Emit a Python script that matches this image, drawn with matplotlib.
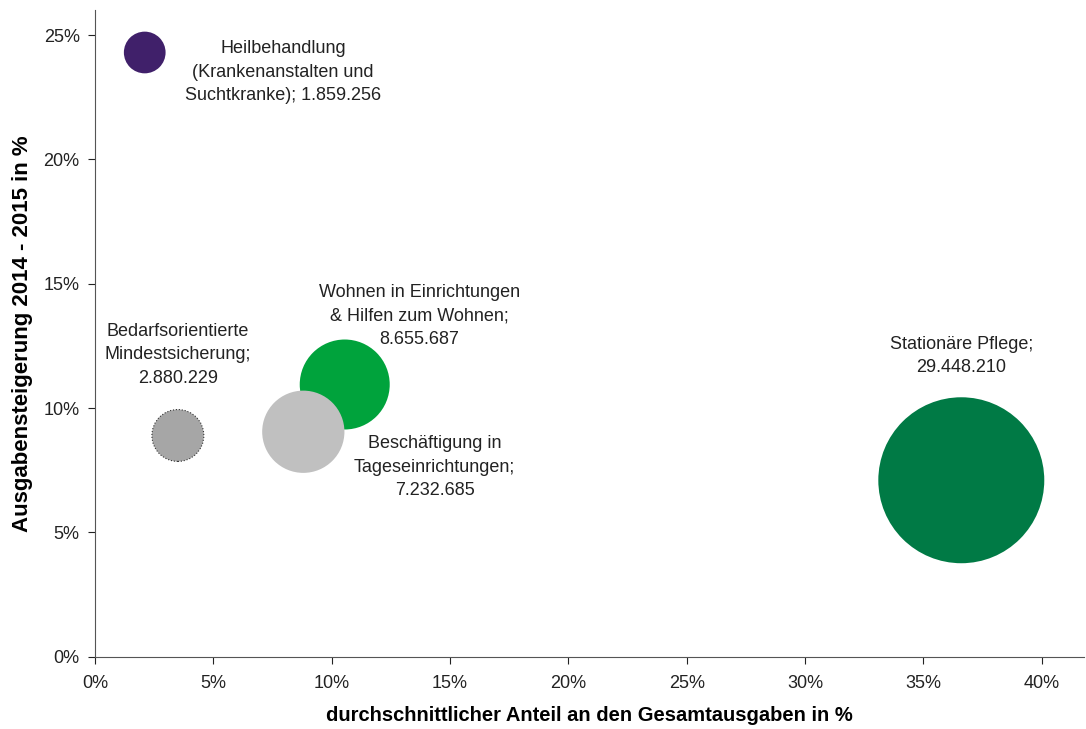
import numpy as np
import matplotlib
matplotlib.use('Agg')
import matplotlib.pyplot as plt
from matplotlib.ticker import FuncFormatter

plt.rcParams['font.family'] = ['Liberation Sans Narrow', 'Liberation Sans', 'DejaVu Sans']

# data
labels = ['Heilbehandlung\n(Krankenanstalten und\nSuchtkranke); 1.859.256',
          'Bedarfsorientierte\nMindestsicherung;\n2.880.229',
          'Wohnen in Einrichtungen\n& Hilfen zum Wohnen;\n8.655.687',
          'Beschäftigung in\nTageseinrichtungen;\n7.232.685',
          'Stationäre Pflege;\n29.448.210']
share = [2.1, 3.5, 10.55, 8.8, 36.6]        # x: Anteil an Gesamtausgaben in %
growth = [24.3, 8.9, 10.95, 9.05, 7.1]      # y: Ausgabensteigerung in %
volume = [1859256, 2880229, 8655687, 7232685, 29448210]
colors = ['#40206a', '#a6a6a6', '#00a33c', '#c0c0c0', '#007a45']
edges = ['none', '#333333', 'none', 'none', 'none']
label_pos = [(7.94, 23.5), (3.5, 12.15), (13.7, 13.7), (14.35, 7.63), (36.6, 12.1)]

fig = plt.figure(figsize=(10.86, 7.29), dpi=100)
ax = fig.add_axes([0.0875, 0.099, 0.911, 0.887])

smax = 14280
for i in range(len(labels)):
    s = smax * volume[i] / max(volume)
    ax.scatter(share[i], growth[i], s=s, c=colors[i],
               edgecolors=edges[i], linewidths=0.8 if edges[i] != 'none' else 0,
               linestyle=':', zorder=2 + i)
    ax.text(label_pos[i][0], label_pos[i][1], labels[i], ha='center', va='center',
            fontsize=13, color='#222222', linespacing=1.5, zorder=10)

ax.set_xlim(0, 41.8)
ax.set_ylim(0, 26.0)
ax.set_xticks(np.arange(0, 41, 5))
ax.set_yticks(np.arange(0, 26, 5))
pct = FuncFormatter(lambda v, p: '%d%%' % v)
ax.xaxis.set_major_formatter(pct)
ax.yaxis.set_major_formatter(pct)
ax.tick_params(labelsize=13, colors='#222222', length=5, direction='out')
ax.tick_params(axis='y', pad=6)
ax.tick_params(axis='x', pad=8)

for sp in ['top', 'right']:
    ax.spines[sp].set_visible(False)
for sp in ['left', 'bottom']:
    ax.spines[sp].set_color('#555555')

ax.set_xlabel('durchschnittlicher Anteil an den Gesamtausgaben in %', fontsize=14.5,
              fontweight='bold', labelpad=10)
ax.set_ylabel('Ausgabensteigerung 2014 - 2015 in %', fontsize=16,
              fontweight='bold', labelpad=8)

fig.savefig('out.png', dpi=100)
